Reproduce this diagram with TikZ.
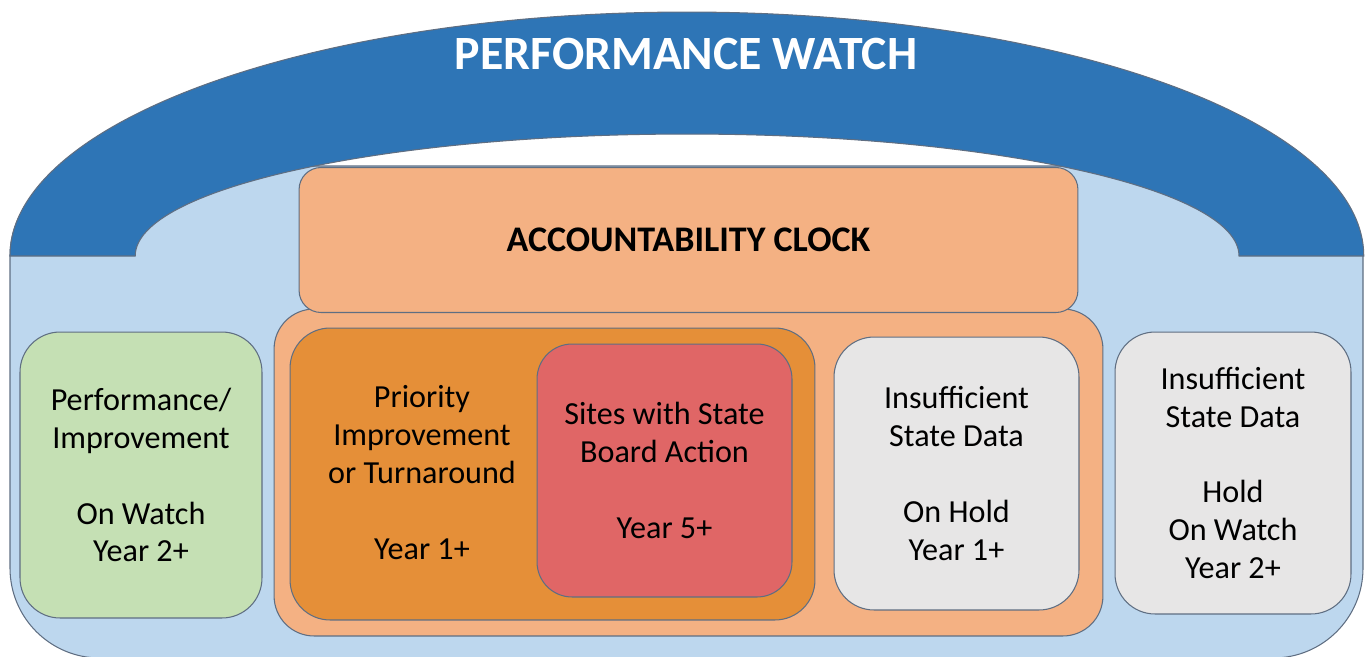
\documentclass[tikz,border=0pt]{standalone}
\usepackage{fontspec}
\setmainfont{Carlito}
\definecolor{watchblue}{RGB}{46, 117, 182}
\definecolor{paleblue}{RGB}{189, 215, 238}
\definecolor{peach}{RGB}{244, 177, 131}
\definecolor{clockorange}{RGB}{229, 143, 56}
\definecolor{boardred}{RGB}{224, 102, 102}
\definecolor{watchgreen}{RGB}{197, 224, 180}
\definecolor{holdgray}{RGB}{231, 230, 230}
\definecolor{edgegray}{RGB}{95, 110, 130}
\tikzset{
  box/.style={draw=edgegray, line width=0.6pt, rounded corners=0.8cm, inner sep=0pt},
  txt/.style={font=\fontsize{18.3}{21.6}\selectfont, align=center, text=black, inner sep=0pt},
}

\begin{document}
\begin{tikzpicture}[x=0.02cm, y=-0.02cm]
  \useasboundingbox (0,0) rectangle (1365,656);
  \clip (0,0) rectangle (1365,656);

  % Background
  \draw[draw=edgegray, fill=paleblue, line width=0.6pt, rounded corners=1.8cm] (10,166) rectangle (1363,658);

  % Performance watch arch
  \draw[draw=edgegray, fill=watchblue, line width=0.6pt] (10,256)
    arc[start angle=180, end angle=0, x radius=13.54cm, y radius=4.88cm] -- (1239,256)
    arc[start angle=0, end angle=180, x radius=11.04cm, y radius=2.44cm] -- cycle;
  \node[font=\fontsize{27.2}{32}\selectfont\bfseries, text=white] (watch) at (686,54) {PERFORMANCE WATCH};

  % Accountability clock
  \node[box, fill=peach, minimum width=16.58cm, minimum height=6.54cm] (clockframe) at (688.5,472.5) {};
  \node[box, fill=peach, rounded corners=0.44cm, minimum width=15.58cm, minimum height=2.9cm,
    font=\fontsize{20.5}{24}\selectfont\bfseries] (clock) at (688.5,240) {ACCOUNTABILITY CLOCK};
  \node[box, fill=clockorange, minimum width=10.5cm, minimum height=5.84cm] (priority) at (552.5,474) {};
  \node[txt] (prioritytext) at (422,472.5) {Priority\\Improvement\\or Turnaround\\[21.6pt]Year 1+};
  \node[box, txt, fill=boardred, rounded corners=0.7cm, minimum width=5.1cm, minimum height=5.06cm] (board) at (664.5,470.5) {Sites with State\\Board Action\\[21.6pt]Year 5+};

  % Side boxes
  \node[box, txt, fill=watchgreen, minimum width=4.84cm, minimum height=5.72cm] (perf) at (141,475) {Performance/\\Improvement\\[21.6pt]On Watch\\Year 2+};
  \node[box, txt, fill=holdgray, minimum width=4.9cm, minimum height=5.46cm] (onhold) at (956.5,473.5) {Insufficient\\State Data\\[21.6pt]On Hold\\Year 1+};
  \node[box, txt, fill=holdgray, minimum width=4.72cm, minimum height=5.64cm] (hold) at (1233,473) {Insufficient\\State Data\\[21.6pt]Hold\\On Watch\\Year 2+};
\end{tikzpicture}
\end{document}
